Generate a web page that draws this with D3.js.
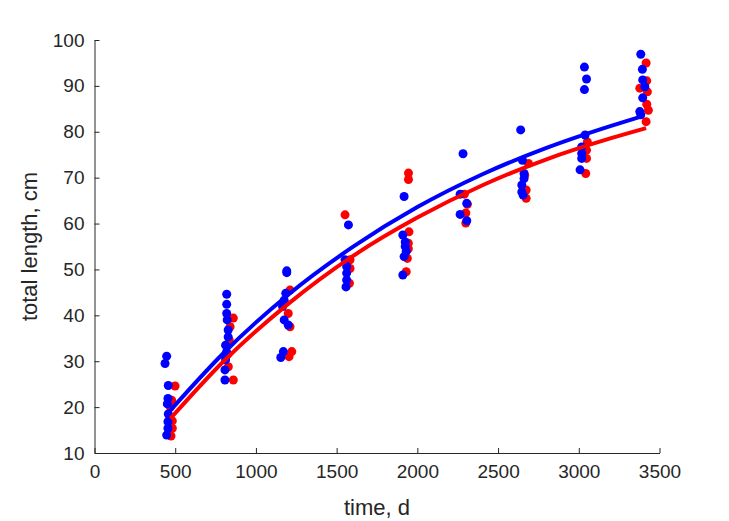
<!DOCTYPE html>
<html>
<head>
<meta charset="utf-8">
<script src="https://cdn.jsdelivr.net/npm/d3@7"></script>
<style>
  body { margin: 0; background: #fff; }
  text { font-family: "Liberation Sans", Arial, sans-serif; fill: #262626; }
</style>
</head>
<body>
<div id="vis"></div>
<script>
// measured points, [time (d), total length (cm)]
const bluePoints = [
    [447, 31.1], [437, 29.5], [457, 24.7], [455, 21.9], [451, 20.7], [457, 18.5], [455, 16.8], [455, 15.4], [447, 13.9],
    [819, 44.6], [819, 42.4], [819, 40.4], [822, 39.0], [828, 36.8], [828, 35.3], [812, 33.5], [818, 32.0], [812, 31.0], [812, 30.3], [808, 28.1], [808, 25.9],
    [1191, 49.7], [1191, 49.3], [1185, 44.8], [1175, 43.3], [1165, 41.9], [1175, 39.0], [1200, 37.9], [1170, 32.1], [1154, 30.8],
    [1573, 59.7], [1552, 52.1], [1562, 50.6], [1562, 49.2], [1562, 47.7], [1558, 46.2],
    [1918, 65.9], [1910, 57.5], [1925, 56.0], [1925, 55.0], [1931, 53.9], [1918, 52.8], [1910, 48.8],
    [2283, 75.2], [2265, 66.4], [2306, 64.4], [2265, 62.0], [2306, 60.6],
    [2640, 80.4], [2651, 73.8], [2661, 70.9], [2661, 69.8], [2647, 68.4], [2647, 66.9], [2655, 66.2],
    [3035, 94.1], [3048, 91.5], [3035, 89.2], [3039, 79.3], [3018, 76.7], [3018, 75.3], [3018, 74.2], [3008, 71.7],
    [3384, 96.9], [3394, 93.6], [3396, 91.3], [3409, 89.8], [3396, 87.4], [3378, 84.4], [3384, 83.7]
];
const redPoints = [
    [499, 24.6], [478, 21.5], [470, 20.0], [482, 17.0], [482, 15.4], [474, 13.7],
    [860, 39.4], [840, 37.5], [835, 34.6], [825, 31.5], [829, 28.8], [860, 25.9],
    [1211, 45.5], [1200, 40.4], [1211, 37.5], [1222, 32.1], [1205, 31.0],
    [1552, 61.9], [1583, 52.1], [1583, 50.2], [1579, 47.0],
    [1945, 71.0], [1945, 69.6], [1948, 58.2], [1944, 55.7], [1944, 54.5], [1938, 52.4], [1931, 49.5],
    [2291, 66.4], [2310, 64.2], [2300, 62.3], [2300, 60.1],
    [2688, 73.1], [2665, 70.5], [2674, 67.3], [2674, 65.5],
    [3053, 77.8], [3048, 76.0], [3048, 74.2], [3043, 70.9],
    [3417, 95.0], [3421, 91.1], [3378, 89.5], [3425, 88.7], [3421, 86.0], [3431, 84.7], [3417, 82.2]
];

// growth curves
const blueCurve = [
    [455, 18.7], [800, 31.8], [1200, 44.5], [1600, 54.9], [2000, 63.6],
    [2400, 70.7], [2800, 76.5], [3200, 81.3], [3375, 83.2]
];
const redCurve = [
    [470, 17.5], [800, 30.0], [1200, 42.5], [1600, 52.9], [2000, 61.3],
    [2400, 68.3], [2800, 74.0], [3200, 78.6], [3417, 80.8]
];

const xTicks = [0, 500, 1000, 1500, 2000, 2500, 3000, 3500];
const yTicks = [10, 20, 30, 40, 50, 60, 70, 80, 90, 100];

var margin = { top: 40, right: 69.5, bottom: 68, left: 94.5 },
    width = 729 - margin.left - margin.right,
    height = 521 - margin.top - margin.bottom;

var root = d3.select("#vis")
    .append("svg")
    .attr("width", 729)
    .attr("height", 521);

root.append("rect").attr("width", 729).attr("height", 521).attr("fill", "#fff");

var svg = root.append("g")
    .attr("transform", "translate(" + margin.left + "," + margin.top + ")");

var x = d3.scaleLinear().domain([0, 3500]).range([0, width]);
var y = d3.scaleLinear().domain([10, 100]).range([height, 0]);

// points first, fitted lines on top
svg.append("g").selectAll("circle")
    .data(redPoints)
    .enter().append("circle")
    .attr("cx", d => x(d[0]))
    .attr("cy", d => y(d[1]))
    .attr("r", 4.5)
    .attr("fill", "#ff0000");

svg.append("g").selectAll("circle")
    .data(bluePoints)
    .enter().append("circle")
    .attr("cx", d => x(d[0]))
    .attr("cy", d => y(d[1]))
    .attr("r", 4.5)
    .attr("fill", "#0000ff");

var line = d3.line()
    .x(d => x(d[0]))
    .y(d => y(d[1]))
    .curve(d3.curveMonotoneX);

svg.append("path")
    .datum(redCurve)
    .attr("d", line)
    .attr("fill", "none")
    .attr("stroke", "#ff0000")
    .attr("stroke-width", 4);

svg.append("path")
    .datum(blueCurve)
    .attr("d", line)
    .attr("fill", "none")
    .attr("stroke", "#0000ff")
    .attr("stroke-width", 4);

// axes, ticks pointing inward like matlab
var fmt = d3.format("d");
var xAxis = svg.append("g")
    .attr("transform", "translate(0," + height + ")")
    .call(d3.axisBottom(x).tickValues(xTicks).tickFormat(fmt).tickSizeInner(-5).tickSizeOuter(0).tickPadding(12));

var yAxis = svg.append("g")
    .call(d3.axisLeft(y).tickValues(yTicks).tickFormat(fmt).tickSizeInner(-5).tickSizeOuter(0).tickPadding(10));

[xAxis, yAxis].forEach(function (a) {
    a.select(".domain").attr("stroke", "#262626");
    a.selectAll(".tick line").attr("stroke", "#262626");
    a.selectAll(".tick text")
        .attr("fill", "#262626")
        .style("font-family", "'Liberation Sans', Arial, sans-serif")
        .style("font-size", "19px");
});

svg.append("text")
    .attr("x", width / 2)
    .attr("y", height + 62)
    .attr("text-anchor", "middle")
    .style("font-size", "22px")
    .text("time, d");

svg.append("text")
    .attr("transform", "translate(" + (-58) + "," + (height / 2) + ") rotate(-90)")
    .attr("text-anchor", "middle")
    .style("font-size", "22px")
    .text("total length, cm");
</script>
</body>
</html>
